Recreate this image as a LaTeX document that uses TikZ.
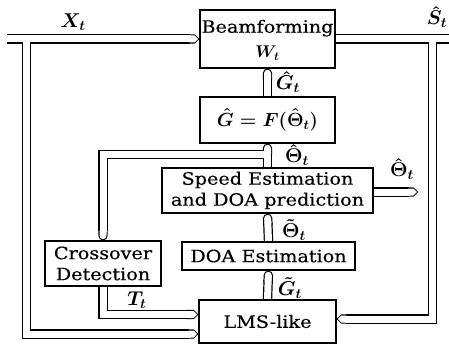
\RequirePackage{fix-cm}
\documentclass[tikz,border=0pt]{standalone}
\usepackage{fontspec}
\setmainfont{DejaVu Serif}[FakeStretch=1.13,FakeBold=0.3]
\usetikzlibrary{arrows.meta,calc}
\newcommand\dbllines[2]{%
  % X_t input
  \draw[#1,-{Triangle Cap},shorten >=#2] (xin) -- (beam.west);
  \draw[#1,-{Triangle Cap},shorten >=#2] (xsplit) |- (xlms);
  % S_t output
  \draw[#1] (beam.east) -- (sout);
  \draw[#1,-{Triangle Cap},shorten >=#2] (ssplit) |- (slms);
  % G_t
  \draw[#1,-{Round Cap},shorten >=#2] (gbox.north) -- (beam.south);
  % Theta hat
  \draw[#1,-{Round Cap},shorten >=#2] (speed.north) -- (gbox.south);
  \draw[#1,-{Round Cap},shorten >=#2] (tsplit) -| (cross.north);
  % Theta hat out
  \draw[#1,-{Triangle Cap},shorten >=#2] (speed.east |- tout) -- (tout);
  % Theta tilde
  \draw[#1,-{Round Cap},shorten >=#2] (doa.north) -- (speed.south);
  % G tilde
  \draw[#1,-{Round Cap},shorten >=#2] (lms.north) -- (doa.south);
  % T_t
  \draw[#1,-{Triangle Cap},shorten >=#2] (cross.south) |- (tlms);
}
\begin{document}
\begin{tikzpicture}[x=1pt,y=-1pt,
  box/.style={draw, line width=1.2pt, fill=white, align=center, inner sep=0pt,
    font=\fontsize{17}{21}\selectfont\boldmath},
  blk/.style={line width=9.4pt, black, line join=miter},
  wht/.style={line width=7.0pt, white, line join=miter},
  lbl/.style={font=\fontsize{20}{22}\selectfont\boldmath, inner sep=0pt}]
\useasboundingbox (0,0) rectangle (449,345);
% boxes (positions)
\node[box, minimum width=135pt, minimum height=58pt] (beam) at (267.5,39) {\rule{0pt}{15pt}Beamforming\\[4pt]$W_t$};
\node[box, minimum width=135pt, minimum height=46pt, font=\fontsize{19}{22}\selectfont\boldmath] (gbox) at (267.5,120) {$\hat{G}=F(\hat{\Theta}_t)$};
\node[box, minimum width=211pt, minimum height=45pt] (speed) at (267.5,190.5) {Speed Estimation\\and DOA prediction};
\node[box, minimum width=173pt, minimum height=28pt] (doa) at (268.5,256) {DOA Estimation};
\node[box, minimum width=116pt, minimum height=45pt] (cross) at (103,263.5) {Crossover\\Detection};
\node[box, minimum width=137pt, minimum height=43pt] (lms) at (267.5,321.5) {LMS-like};
% junction coordinates
\coordinate (xin) at (7,39);
\coordinate (xsplit) at (26.5,39);
\coordinate (xlms) at (lms.west |- 0,334);
\coordinate (sout) at (449,39);
\coordinate (ssplit) at (432.5,39);
\coordinate (slms) at (lms.east |- 0,319);
\coordinate (tsplit) at (267.5,154.5);
\coordinate (tout) at (418,192);
\coordinate (tlms) at (lms.west |- 0,314.5);
% double connectors
\dbllines{blk}{0pt}
\dbllines{wht}{1.2pt}
% redraw boxes on top
\node[box, minimum width=135pt, minimum height=58pt] at (beam) {\rule{0pt}{15pt}Beamforming\\[4pt]$W_t$};
\node[box, minimum width=135pt, minimum height=46pt, font=\fontsize{19}{22}\selectfont\boldmath] at (gbox) {$\hat{G}=F(\hat{\Theta}_t)$};
\node[box, minimum width=211pt, minimum height=45pt] at (speed) {Speed Estimation\\and DOA prediction};
\node[box, minimum width=173pt, minimum height=28pt] at (doa) {DOA Estimation};
\node[box, minimum width=116pt, minimum height=45pt] at (cross) {Crossover\\Detection};
\node[box, minimum width=137pt, minimum height=43pt] at (lms) {LMS-like};
% labels
\node[lbl] (lx) at (73,22) {$X_t$};
\node[lbl] (ls) at (437,17) {$\hat{S}_t$};
\node[lbl] (lg) at (288,82) {$\hat{G}_t$};
\node[lbl] (lth) at (297,155) {$\hat{\Theta}_t$};
\node[lbl] (lthout) at (402,169) {$\hat{\Theta}_t$};
\node[lbl] (ltt) at (294,230) {$\tilde{\Theta}_t$};
\node[lbl] (lgt) at (290,288) {$\tilde{G}_t$};
\node[lbl] (lt) at (137,300) {$T_t$};
\end{tikzpicture}
\end{document}
